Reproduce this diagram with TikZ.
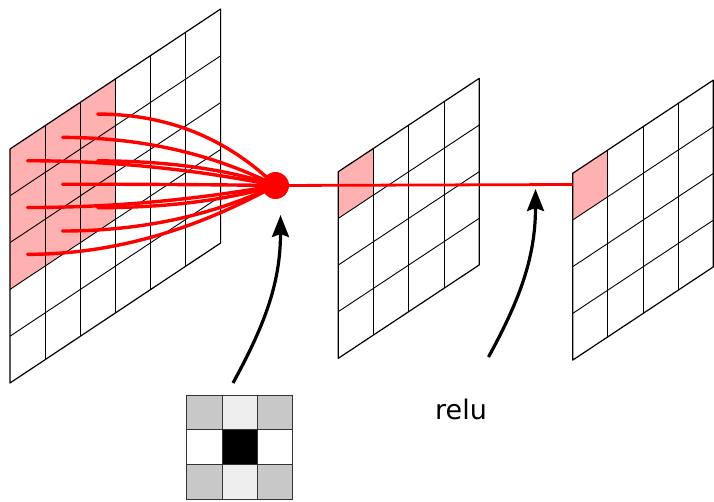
\documentclass[tikz,border=0pt]{standalone}
\usepackage{fontspec}
\setmainfont{DejaVu Sans}
\usetikzlibrary{arrows.meta,calc}
\definecolor{pinkc}{RGB}{255,176,176}
\definecolor{kgray}{RGB}{200,200,200}
\definecolor{klight}{RGB}{238,238,238}
\begin{document}
\begin{tikzpicture}[x=1pt,y=-1pt,
  gridline/.style={draw=black,line width=0.9pt},
  gridborder/.style={draw=black,line width=1.2pt,line join=round},
  redcurve/.style={draw=red,line width=3.4pt,line cap=round},
  redline/.style={draw=red,line width=2.8pt},
  bigarrow/.style={draw=black,line width=3.2pt,-{Stealth[length=22pt,width=17pt,inset=3pt]}},
  kcell/.style={draw=black!80,line width=1pt}]
\useasboundingbox (0,0) rectangle (714,501);
% ---- input grid (6 x 5)
\begin{scope}[shift={(10,149)},x={(35.1pt,23.33pt)},y={(0pt,-46.8pt)}]
  \fill[pinkc] (0,0) -- (3,0) -- (3,3) -- (0,3) -- cycle;
  \foreach \i in {1,...,5} \draw[gridline] (\i,0) -- (\i,5);
  \foreach \j in {1,...,4} \draw[gridline] (0,\j) -- (6,\j);
  \draw[gridborder] (0,0) -- (6,0) -- (6,5) -- (0,5) -- cycle;
  \foreach \c in {0,1,2} \foreach \r in {0,1,2}
    \coordinate (a\c\r) at (\c+0.5,\r+0.5);
\end{scope}
% ---- middle grid (4 x 4)
\begin{scope}[shift={(338.3,171.7)},x={(35.25pt,23.35pt)},y={(0pt,-46.65pt)}]
  \fill[pinkc] (0,0) -- (1,0) -- (1,1) -- (0,1) -- cycle;
  \foreach \i in {1,...,3} \draw[gridline] (\i,0) -- (\i,4);
  \foreach \j in {1,...,3} \draw[gridline] (0,\j) -- (4,\j);
  \draw[gridborder] (0,0) -- (4,0) -- (4,4) -- (0,4) -- cycle;
\end{scope}
% ---- right grid (4 x 4)
\begin{scope}[shift={(572.7,173.3)},x={(35.15pt,23.3pt)},y={(0pt,-46.7pt)}]
  \fill[pinkc] (0,0) -- (1,0) -- (1,1) -- (0,1) -- cycle;
  \foreach \i in {1,...,3} \draw[gridline] (\i,0) -- (\i,4);
  \foreach \j in {1,...,3} \draw[gridline] (0,\j) -- (4,\j);
  \draw[gridborder] (0,0) -- (4,0) -- (4,4) -- (0,4) -- cycle;
\end{scope}
% ---- neuron
\node[circle,fill=red,inner sep=0pt,minimum size=27pt] (dot) at (275.5,185.5) {};
\coordinate (g3in) at (572.7,184.5);
\foreach \c/\f in {0/0.5,1/0.55,2/0.585} \foreach \r in {0,1,2} {
  \coordinate (m) at ($(a\c\r)!\f!(dot.center)$);
  \coordinate (q) at (m |- a\c\r);
  \draw[redcurve] (a\c\r) .. controls ($(a\c\r)!0.6667!(q)$) and ($(dot.center)!0.6667!(q)$) .. (dot.center);
}
\draw[redline] (dot.center) -- (g3in);
% ---- kernel
\foreach \c in {0,1,2} \foreach \r in {0,1,2}
  \coordinate (k\c\r) at (186.7+35.33*\c,395+34.77*\r);
\foreach \c/\r/\col in {0/0/kgray,1/0/klight,2/0/kgray,0/1/white,1/1/black,2/1/white,0/2/kgray,1/2/klight,2/2/kgray}
  \draw[kcell,fill=\col] (k\c\r) rectangle ++(35.33,34.77);
% ---- arrows
\coordinate (s1) at (233,383);
\coordinate (e1) at (280.5,215);
\coordinate (s2) at (488.5,357);
\coordinate (e2) at (535.5,189);
\draw[bigarrow] (s1) .. controls +(30,-55) and +(0,70) .. (e1);
\draw[bigarrow] (s2) .. controls +(30,-55) and +(0,70) .. (e2);
% ---- label
\node[anchor=base,font=\fontsize{27}{32}\selectfont,inner sep=0pt] (relu) at (461,419.3) {relu};
\end{tikzpicture}
\end{document}
